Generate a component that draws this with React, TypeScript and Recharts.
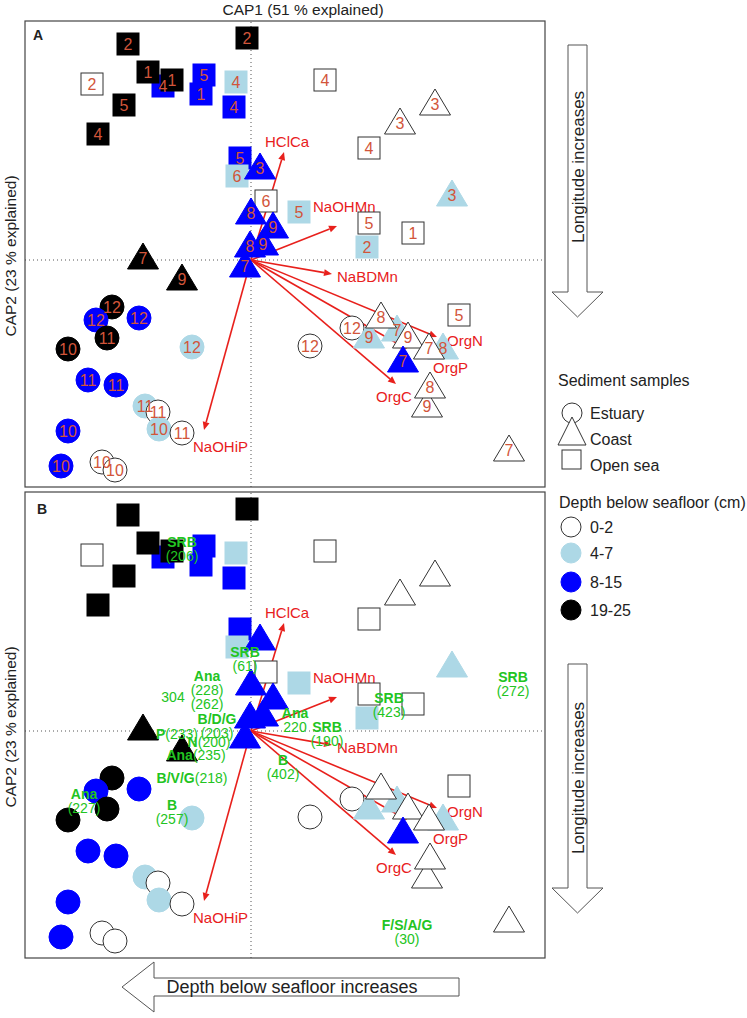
import React from "react";
import { ScatterChart, Scatter, XAxis, YAxis, ReferenceLine } from "recharts";

// depth classes (cm) and their fill colours
const depthClasses = ["0-2", "4-7", "8-15", "19-25"];
const depthFill = ["#ffffff", "#add8e6", "#0000ff", "#000000"];

// samples: [CAP1, CAP2, depth class index, station]
const estuary: [number, number, number, string][] = [
  [-1.39, -0.47, 3, "12"],
  [-1.55, -0.6, 2, "12"],
  [-1.12, -0.58, 2, "12"],
  [-1.44, -0.78, 3, "11"],
  [-1.83, -0.89, 3, "10"],
  [-0.59, -0.87, 1, "12"],
  [-1.63, -1.2, 2, "11"],
  [-1.35, -1.25, 2, "11"],
  [-1.06, -1.46, 1, "11"],
  [-0.93, -1.52, 0, "11"],
  [-0.92, -1.69, 1, "10"],
  [-0.69, -1.73, 0, "11"],
  [-1.83, -1.71, 2, "10"],
  [-1.9, -2.06, 2, "10"],
  [-1.49, -2.02, 0, "10"],
  [-1.36, -2.1, 0, "10"],
  [0.59, -0.86, 0, "12"],
  [1.01, -0.68, 0, "12"],
];

const openSea: [number, number, number, string][] = [
  [-1.23, 2.16, 3, "2"],
  [-0.04, 2.22, 3, "2"],
  [-1.59, 1.76, 0, "2"],
  [-0.88, 1.74, 2, "4"],
  [-1.03, 1.88, 3, "1"],
  [-0.79, 1.8, 3, "1"],
  [-0.47, 1.85, 2, "5"],
  [-0.5, 1.66, 2, "1"],
  [-0.15, 1.78, 1, "4"],
  [-0.17, 1.53, 2, "4"],
  [-1.27, 1.55, 3, "5"],
  [-1.53, 1.26, 3, "4"],
  [0.74, 1.8, 0, "4"],
  [1.18, 1.12, 0, "4"],
  [-0.11, 1.02, 2, "5"],
  [-0.14, 0.84, 1, "6"],
  [0.15, 0.59, 0, "6"],
  [0.48, 0.48, 1, "5"],
  [1.18, 0.37, 0, "5"],
  [1.16, 0.13, 1, "2"],
  [1.62, 0.27, 0, "1"],
  [2.08, -0.55, 0, "5"],
];

const coast: [number, number, number, string][] = [
  [1.18, -0.77, 1, "9"],
  [1.46, -0.7, 1, "7"],
  [1.92, -0.88, 1, "8"],
  [2.01, 0.65, 1, "3"],
  [1.3, -0.57, 0, "8"],
  [1.57, -0.77, 0, "9"],
  [1.78, -0.88, 0, "7"],
  [1.76, -1.46, 0, "9"],
  [1.79, -1.27, 0, "8"],
  [2.58, -1.9, 0, "7"],
  [1.84, 1.56, 0, "3"],
  [1.49, 1.37, 0, "3"],
  [1.52, -1.01, 2, "7"],
  [-1.08, 0.02, 3, "7"],
  [-0.69, -0.19, 3, "9"],
  [0.09, 0.92, 2, "3"],
  [0.0, 0.47, 2, "8"],
  [0.22, 0.33, 2, "9"],
  [-0.01, 0.14, 2, "8"],
  [0.12, 0.16, 2, "9"],
  [-0.06, -0.06, 2, "7"],
];

// environmental vectors: name, CAP1, CAP2
const vecNames = ["HClCa", "NaOHMn", "NaBDMn", "OrgN", "OrgP", "OrgC", "NaOHiP"];
const vecX = [0.33, 0.86, 0.81, 1.86, 1.56, 1.45, -0.47];
const vecY = [1.08, 0.34, -0.14, -0.77, -0.89, -1.24, -1.7];

// taxa fitted in panel B: [group, count, CAP1, CAP2, inline]
const taxa: [string, string, number, number, boolean][] = [
  ["SRB", "(206)", -0.69, 1.89, false],
  ["SRB", "(61)", -0.06, 0.79, false],
  ["Ana", "(228)", -0.44, 0.55, false],
  ["", "(262)", -0.44, 0.27, false],
  ["", "304", -0.78, 0.34, false],
  ["B/D/G", "(203)", -0.34, 0.12, false],
  ["P", "(233)", -0.74, -0.03, true],
  ["N", "(200)", -0.42, -0.11, true],
  ["Ana", "(235)", -0.55, -0.24, true],
  ["B/V/G", "(218)", -0.59, -0.47, true],
  ["Ana", "(227)", -1.67, -0.63, false],
  ["B", "(257)", -0.79, -0.74, false],
  ["Ana", "220", 0.44, 0.18, false],
  ["SRB", "(190)", 0.76, 0.04, false],
  ["B", "(402)", 0.32, -0.29, false],
  ["SRB", "(423)", 1.38, 0.33, false],
  ["SRB", "(272)", 2.62, 0.54, false],
  ["F/S/A/G", "(30)", 1.56, -1.94, false],
];

const FONT = "'Liberation Sans', Arial, sans-serif";
const RED = "#e8201c";
const GREEN = "#22c422";
const NUM = "#d2553a";
const INK = "#222";
const labelOffset: Record<string, [number, number]> = {
  HClCa: [-19, -10],
  NaOHMn: [-24, -19],
  NaBDMn: [5, 3],
  OrgN: [10, 4],
  OrgP: [26, 19],
  OrgC: [-20, 13],
  NaOHiP: [-11, 17],
};

const toPts = (rows: [number, number, number, string][], site: string) =>
  rows.map(([x, y, d, n]) => ({ x, y, d, n, site }));

const circlePts = toPts(estuary, "Estuary");
const squarePts = toPts(openSea, "Open sea");
const trianglePts = toPts(coast, "Coast");
const allPts = [...circlePts, ...squarePts, ...trianglePts];
const taxaPts = taxa.map(([name, count, x, y, inline]) => ({ name, count, x, y, inline }));

const stroke = (d: number) => (d === 0 ? "#333" : depthFill[d]);

const circleShape = (p: any) => (
  <circle cx={p.cx} cy={p.cy} r={12} fill={depthFill[p.payload.d]} stroke={stroke(p.payload.d)} strokeWidth={1} />
);
const squareShape = (p: any) => (
  <rect x={p.cx - 11} y={p.cy - 11} width={22} height={22} fill={depthFill[p.payload.d]} stroke={stroke(p.payload.d)} strokeWidth={1} />
);
const triangleShape = (p: any) => (
  <polygon
    points={`${p.cx},${p.cy - 15} ${p.cx + 15.5},${p.cy + 11} ${p.cx - 15.5},${p.cy + 11}`}
    fill={depthFill[p.payload.d]}
    stroke={stroke(p.payload.d)}
    strokeWidth={1}
  />
);
const numberShape = (p: any) => (
  <text x={p.cx} y={p.cy} dy={5.5} textAnchor="middle" fontSize={16} fill={NUM} fontFamily={FONT}>
    {p.payload.n}
  </text>
);
const taxonShape = (p: any) => {
  const { cx, cy, payload } = p;
  if (payload.inline)
    return (
      <text x={cx} y={cy} dy={5} textAnchor="middle" fontSize={14} fill={GREEN} fontFamily={FONT}>
        <tspan fontWeight="bold">{payload.name}</tspan>
        {payload.count}
      </text>
    );
  if (!payload.name)
    return (
      <text x={cx} y={cy} dy={5} textAnchor="middle" fontSize={14} fill={GREEN} fontFamily={FONT}>
        {payload.count}
      </text>
    );
  return (
    <g fontFamily={FONT} fontSize={14} fill={GREEN} textAnchor="middle">
      <text x={cx} y={cy} dy={5} fontWeight="bold">{payload.name}</text>
      <text x={cx} y={cy + 14} dy={5}>{payload.count}</text>
    </g>
  );
};

const arrowShape = (name: string) => (p: any) => {
  const { x1, y1, x2, y2 } = p;
  const a = Math.atan2(y2 - y1, x2 - x1);
  const L = 8;
  const w = 3.5;
  const bx = x2 - L * Math.cos(a);
  const by = y2 - L * Math.sin(a);
  const px = -Math.sin(a) * w;
  const py = Math.cos(a) * w;
  const [dx, dy] = labelOffset[name];
  return (
    <g>
      <line x1={x1} y1={y1} x2={bx} y2={by} stroke={RED} strokeWidth={1.6} />
      <polygon points={`${x2},${y2} ${bx + px},${by + py} ${bx - px},${by - py}`} fill={RED} />
      <text x={x2 + dx} y={y2 + dy} dy={5} fontSize={15} fill={RED} fontFamily={FONT}>
        {name}
      </text>
    </g>
  );
};

function Panel({ labels }: { labels: boolean }) {
  return (
    <ScatterChart width={520} height={466} margin={{ top: 0, right: 0, bottom: 0, left: 0 }}>
      <XAxis type="number" dataKey="x" domain={[-2.26, 2.94]} hide />
      <YAxis type="number" dataKey="y" domain={[-2.27, 2.39]} hide />
      <ReferenceLine x={0} stroke="#555" strokeDasharray="1 3" />
      <ReferenceLine y={0} stroke="#555" strokeDasharray="1 3" />
      <Scatter data={circlePts} shape={circleShape} isAnimationActive={false} />
      <Scatter data={squarePts} shape={squareShape} isAnimationActive={false} />
      <Scatter data={trianglePts} shape={triangleShape} isAnimationActive={false} />
      {labels ? (
        <Scatter data={allPts} shape={numberShape} isAnimationActive={false} />
      ) : (
        <Scatter data={taxaPts} shape={taxonShape} isAnimationActive={false} />
      )}
      {vecNames.map((name, i) => (
        <ReferenceLine
          key={name}
          segment={[
            { x: 0, y: 0 },
            { x: vecX[i], y: vecY[i] },
          ]}
          shape={arrowShape(name)}
        />
      ))}
    </ScatterChart>
  );
}

const arrowDown = (top: number, len: number) =>
  `568,${top} 587,${top} 587,${top + len} 603,${top + len} 577.5,${top + len + 25} 552,${top + len} 568,${top + len}`;

export default function App() {
  return (
    <div style={{ position: "absolute", left: 0, top: 0, width: 747, height: 1018, background: "#fff", fontFamily: FONT }}>
      <div style={{ position: "absolute", left: 25, top: 21 }}>
        <Panel labels={true} />
      </div>
      <div style={{ position: "absolute", left: 25, top: 492 }}>
        <Panel labels={false} />
      </div>
      <svg width={747} height={1018} style={{ position: "absolute", left: 0, top: 0, pointerEvents: "none" }} fontFamily={FONT}>
        <rect x={25} y={21} width={520} height={466} fill="none" stroke="#444" strokeWidth={1.2} />
        <rect x={25} y={492} width={520} height={466} fill="none" stroke="#444" strokeWidth={1.2} />
        <text x={303} y={10} dy={5} textAnchor="middle" fontSize={15.5} fill={INK}>CAP1 (51 % explained)</text>
        <text transform="translate(11,256) rotate(-90)" dy={5} textAnchor="middle" fontSize={15.5} fill={INK}>CAP2 (23 % explained)</text>
        <text transform="translate(11,727) rotate(-90)" dy={5} textAnchor="middle" fontSize={15.5} fill={INK}>CAP2 (23 % explained)</text>
        <text x={33} y={35} dy={5} fontSize={14} fontWeight="bold" fill={INK}>A</text>
        <text x={37} y={509} dy={5} fontSize={14} fontWeight="bold" fill={INK}>B</text>

        <polygon points={arrowDown(45, 247)} fill="#fff" stroke="#555" strokeWidth={1} />
        <text transform="translate(578,167) rotate(-90)" dy={6} textAnchor="middle" fontSize={17} fill={INK}>Longitude increases</text>
        <polygon points={arrowDown(664, 224)} fill="#fff" stroke="#555" strokeWidth={1} />
        <text transform="translate(578,778) rotate(-90)" dy={6} textAnchor="middle" fontSize={17} fill={INK}>Longitude increases</text>

        <polygon points="122,987 154,962 154,978 459,978 459,996 154,996 154,1012" fill="#fff" stroke="#555" strokeWidth={1} />
        <text x={292} y={987} dy={6} textAnchor="middle" fontSize={18} fill={INK}>Depth below seafloor increases</text>

        <text x={558} y={380} dy={5.5} fontSize={16} fill={INK}>Sediment samples</text>
        <circle cx={572} cy={413} r={10} fill="#fff" stroke="#333" />
        <text x={590} y={413} dy={5.5} fontSize={16} fill={INK}>Estuary</text>
        <polygon points="572,417 586,445 558,445" fill="#fff" stroke="#333" />
        <text x={590} y={439} dy={5.5} fontSize={16} fill={INK}>Coast</text>
        <rect x={562} y={450} width={19} height={19} fill="#fff" stroke="#333" />
        <text x={590} y={465} dy={5.5} fontSize={16} fill={INK}>Open sea</text>

        <text x={559} y={502} dy={5.5} fontSize={16} fill={INK}>Depth below seafloor (cm)</text>
        {depthClasses.map((c, i) => (
          <g key={c}>
            <circle cx={571} cy={[527, 553, 582, 610][i]} r={10} fill={depthFill[i]} stroke={i === 0 ? "#333" : depthFill[i]} />
            <text x={590} y={[527, 553, 582, 610][i]} dy={5.5} fontSize={16} fill={INK}>{c}</text>
          </g>
        ))}
      </svg>
    </div>
  );
}
